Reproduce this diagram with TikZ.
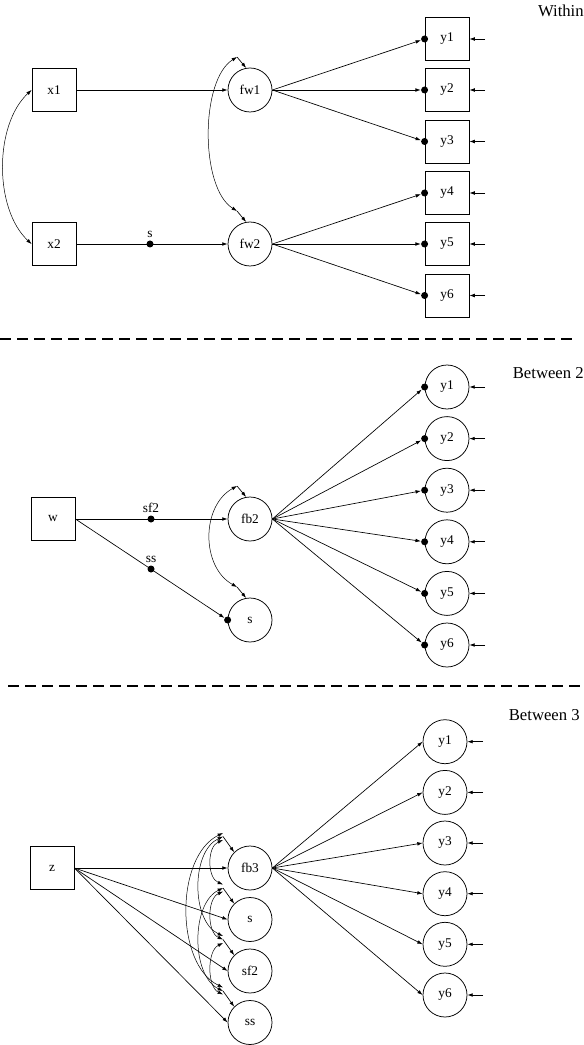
\documentclass[tikz,border=0pt]{standalone}
\usepackage{fontspec}
\setmainfont{Liberation Serif}
\usetikzlibrary{arrows.meta,positioning}

\begin{document}
\begin{tikzpicture}[
    x=0.6pt, y=-0.6pt,
    every node/.style={font=\footnotesize},
    obs/.style={rectangle, draw, line width=0.5pt, minimum width=26.4pt, minimum height=25.8pt, inner sep=0pt},
    lat/.style={circle, draw, line width=0.45pt, minimum size=26.4pt, inner sep=0pt},
    pdot/.style={circle, fill, minimum size=4.2pt, inner sep=0pt},
    e/.style={line width=0.4pt, -{Latex[length=3.2pt,width=2.2pt]}},
    cv/.style={line width=0.3pt, {Latex[length=3.2pt,width=2.2pt]}-{Latex[length=3.2pt,width=2.2pt]}},
    lbl/.style={font=\footnotesize, inner sep=1pt},
    ttl/.style={font=\normalsize, anchor=east, inner sep=0pt},
    divider/.style={line width=0.8pt, dash pattern=on 6.6pt off 3.6pt},
  ]
  \useasboundingbox (0,0) rectangle (584,1045);

  % within level
  \node[ttl] (tw) at (584,11) {Within};
  \node[obs] (x1) at (54,90) {x1};
  \node[obs] (x2) at (54,244) {x2};
  \node[lat] (fw1) at (250,90) {fw1};
  \node[lat] (fw2) at (250,244) {fw2};
  \node[pdot] (ds) at (150,244) {};
  \node[lbl, above=0.5pt of ds] {s};
  \node[obs] (wy1) at (447,39) {y1};
  \node[obs] (wy2) at (447,90) {y2};
  \node[obs] (wy3) at (447,141.5) {y3};
  \node[obs] (wy4) at (447,193) {y4};
  \node[obs] (wy5) at (447,244) {y5};
  \node[obs] (wy6) at (447,295.5) {y6};
  \node[pdot] (wd1) at (wy1.west) {};
  \node[pdot] (wd2) at (wy2.west) {};
  \node[pdot] (wd3) at (wy3.west) {};
  \node[pdot] (wd4) at (wy4.west) {};
  \node[pdot] (wd5) at (wy5.west) {};
  \node[pdot] (wd6) at (wy6.west) {};
  \coordinate (wr1) at (485,39);
  \coordinate (wr2) at (485,90);
  \coordinate (wr3) at (485,141.5);
  \coordinate (wr4) at (485,193);
  \coordinate (wr5) at (485,244);
  \coordinate (wr6) at (485,295.5);
  \coordinate (kw1) at (237,57);
  \coordinate (kw2) at (237,211);
  \draw[e] (x1) -- (fw1);
  \draw[e] (x2) -- (fw2);
  \draw[cv] (x1.west) .. controls (-6,125) and (-6,209) .. (x2.west);
  \draw[cv] (kw1) .. controls (200,80) and (200,188) .. (kw2);
  \draw[e] (kw1) -- (fw1.100);
  \draw[e] (kw2) -- (fw2.100);
  \draw[e] (fw1.east) -- (wd1);
  \draw[e] (fw1.east) -- (wd2);
  \draw[e] (fw1.east) -- (wd3);
  \draw[e] (fw2.east) -- (wd4);
  \draw[e] (fw2.east) -- (wd5);
  \draw[e] (fw2.east) -- (wd6);
  \draw[e] (wr1) -- (wy1);
  \draw[e] (wr2) -- (wy2);
  \draw[e] (wr3) -- (wy3);
  \draw[e] (wr4) -- (wy4);
  \draw[e] (wr5) -- (wy5);
  \draw[e] (wr6) -- (wy6);

  \draw[divider] (0,339) -- (573,339);

  % between level 2
  \node[ttl] (tb2) at (584,373) {Between 2};
  \node[obs] (w) at (53,519) {w};
  \node[lat] (fb2) at (250,519) {fb2};
  \node[lat] (bs) at (250,620) {s};
  \node[pdot] (dsf2) at (151,519) {};
  \node[lbl, above=0.5pt of dsf2] {sf2};
  \node[pdot] (dss) at (151,569) {};
  \node[lbl, above=0.5pt of dss] {ss};
  \node[pdot] (dbs) at (bs.west) {};
  \node[lat] (by1) at (447,387) {y1};
  \node[lat] (by2) at (447,438.6) {y2};
  \node[lat] (by3) at (447,490.2) {y3};
  \node[lat] (by4) at (447,541.8) {y4};
  \node[lat] (by5) at (447,593.4) {y5};
  \node[lat] (by6) at (447,645) {y6};
  \node[pdot] (bd1) at (by1.west) {};
  \node[pdot] (bd2) at (by2.west) {};
  \node[pdot] (bd3) at (by3.west) {};
  \node[pdot] (bd4) at (by4.west) {};
  \node[pdot] (bd5) at (by5.west) {};
  \node[pdot] (bd6) at (by6.west) {};
  \coordinate (br1) at (485,387);
  \coordinate (br2) at (485,438.6);
  \coordinate (br3) at (485,490.2);
  \coordinate (br4) at (485,541.8);
  \coordinate (br5) at (485,593.4);
  \coordinate (br6) at (485,645);
  \coordinate (kb1) at (237,486);
  \coordinate (kb2) at (237,587);
  \draw[e] (w) -- (fb2);
  \draw[e] (w.east) -- (dbs);
  \draw[cv] (kb1) .. controls (201,506) and (201,567) .. (kb2);
  \draw[e] (kb1) -- (fb2.100);
  \draw[e] (kb2) -- (bs.100);
  \draw[e] (fb2.east) -- (bd1);
  \draw[e] (fb2.east) -- (bd2);
  \draw[e] (fb2.east) -- (bd3);
  \draw[e] (fb2.east) -- (bd4);
  \draw[e] (fb2.east) -- (bd5);
  \draw[e] (fb2.east) -- (bd6);
  \draw[e] (br1) -- (by1);
  \draw[e] (br2) -- (by2);
  \draw[e] (br3) -- (by3);
  \draw[e] (br4) -- (by4);
  \draw[e] (br5) -- (by5);
  \draw[e] (br6) -- (by6);

  \draw[divider] (8,686) -- (580,686);

  % between level 3
  \node[ttl] (tb3) at (580,715) {Between 3};
  \node[obs] (z) at (52,868) {z};
  \node[lat] (fb3) at (250,868) {fb3};
  \node[lat] (cs) at (250,919.5) {s};
  \node[lat] (csf2) at (250,971) {sf2};
  \node[lat] (css) at (250,1022.5) {ss};
  \node[lat] (cy1) at (445,741.7) {y1};
  \node[lat] (cy2) at (445,792.4) {y2};
  \node[lat] (cy3) at (445,843) {y3};
  \node[lat] (cy4) at (445,893.7) {y4};
  \node[lat] (cy5) at (445,944.3) {y5};
  \node[lat] (cy6) at (445,995) {y6};
  \coordinate (cr1) at (483,741.7);
  \coordinate (cr2) at (483,792.4);
  \coordinate (cr3) at (483,843);
  \coordinate (cr4) at (483,893.7);
  \coordinate (cr5) at (483,944.3);
  \coordinate (cr6) at (483,995);
  % kinks of the covariance arcs
  \coordinate (kfa) at (223,833);
  \coordinate (kfb) at (223,836.5);
  \coordinate (kfc) at (223,840);
  \coordinate (ksa) at (223,884.5);
  \coordinate (ksb) at (223,888);
  \coordinate (ksc) at (223,891.5);
  \coordinate (kta) at (223,936);
  \coordinate (ktb) at (223,939.5);
  \coordinate (ktc) at (223,943);
  \coordinate (kua) at (223,987.5);
  \coordinate (kub) at (223,991);
  \coordinate (kuc) at (223,994.5);
  \draw[e] (z) -- (fb3);
  \draw[e] (z.east) -- (cs.west);
  \draw[e] (z.east) -- (csf2.west);
  \draw[e] (z.east) -- (css.west);
  \draw[cv] (kfc) .. controls (207,846.7) and (207,877.8) .. (ksa);
  \draw[cv] (kfb) .. controls (191,851.4) and (191,921.1) .. (kta);
  \draw[cv] (kfa) .. controls (175,856.3) and (175,964.3) .. (kua);
  \draw[cv] (ksc) .. controls (207,898.7) and (207,932.3) .. (ktb);
  \draw[cv] (ksb) .. controls (191,903.5) and (191,975.5) .. (kub);
  \draw[cv] (ktc) .. controls (207,950.8) and (207,986.7) .. (kuc);
  \draw[e] (kfb) -- (fb3.135);
  \draw[e] (ksb) -- (cs.135);
  \draw[e] (ktb) -- (csf2.135);
  \draw[e] (kub) -- (css.135);
  \draw[e] (fb3.east) -- (cy1.west);
  \draw[e] (fb3.east) -- (cy2.west);
  \draw[e] (fb3.east) -- (cy3.west);
  \draw[e] (fb3.east) -- (cy4.west);
  \draw[e] (fb3.east) -- (cy5.west);
  \draw[e] (fb3.east) -- (cy6.west);
  \draw[e] (cr1) -- (cy1);
  \draw[e] (cr2) -- (cy2);
  \draw[e] (cr3) -- (cy3);
  \draw[e] (cr4) -- (cy4);
  \draw[e] (cr5) -- (cy5);
  \draw[e] (cr6) -- (cy6);
\end{tikzpicture}
\end{document}
